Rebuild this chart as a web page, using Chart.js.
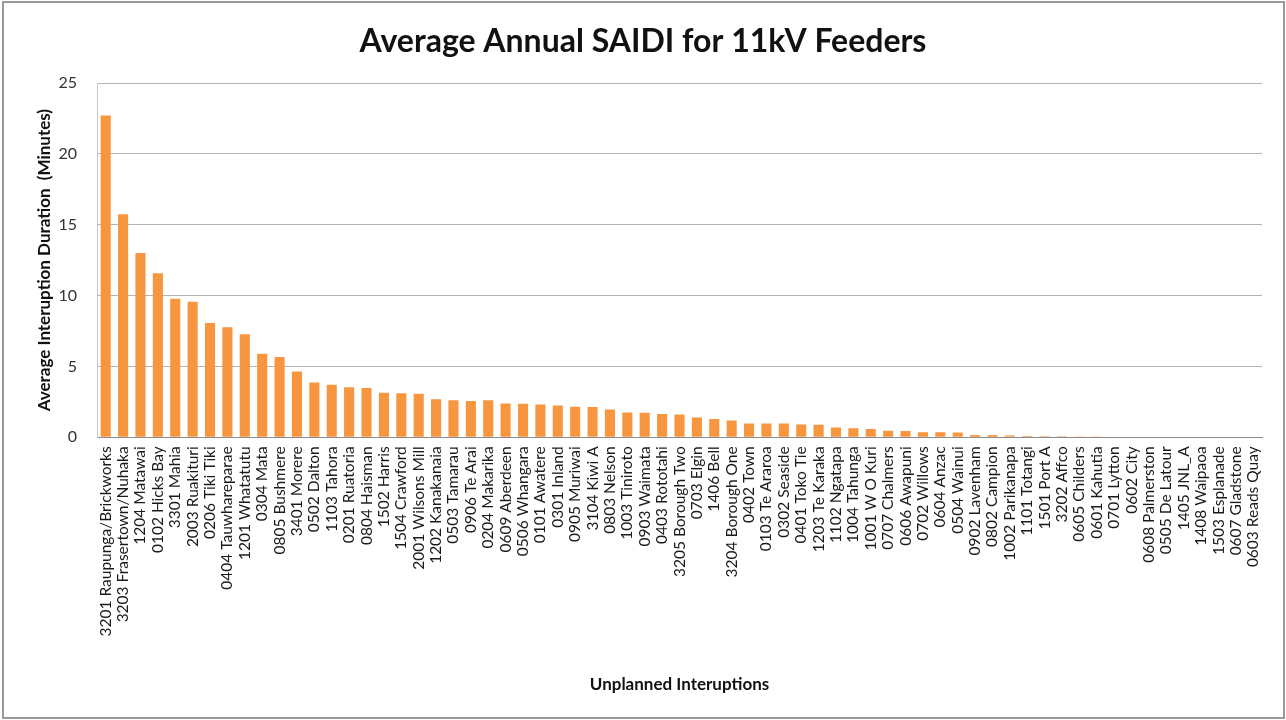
<!DOCTYPE html>
<html>
<head>
<meta charset="utf-8">
<title>Average Annual SAIDI for 11kV Feeders</title>
<script src="https://cdn.jsdelivr.net/npm/chart.js@4/dist/chart.umd.min.js"></script>
<style>
  html, body { margin: 0; padding: 0; background: #ffffff; }
  #wrap { position: relative; width: 1286px; height: 720px; }
</style>
</head>
<body>
<div id="wrap"><canvas id="chart" width="1286" height="720"></canvas></div>
<script>
// Feeder names (x-axis categories), ordered by average SAIDI
const feeders = [
  '3201 Raupunga/Brickworks', '3203 Frasertown/Nuhaka', '1204 Matawai', '0102 Hicks Bay',
  '3301 Mahia', '2003 Ruakituri', '0206 Tiki Tiki', '0404 Tauwhareparae', '1201 Whatatutu',
  '0304 Mata', '0805 Bushmere', '3401 Morere', '0502 Dalton', '1103 Tahora', '0201 Ruatoria',
  '0804 Haisman', '1502 Harris', '1504 Crawford', '2001 Wilsons Mill', '1202 Kanakanaia',
  '0503 Tamarau', '0906 Te Arai', '0204 Makarika', '0609 Aberdeen', '0506 Whangara',
  '0101 Awatere', '0301 Inland', '0905 Muriwai', '3104 Kiwi A', '0803 Nelson', '1003 Tiniroto',
  '0903 Waimata', '0403 Rototahi', '3205 Borough Two', '0703 Elgin', '1406 Bell',
  '3204 Borough One', '0402 Town', '0103 Te Araroa', '0302 Seaside', '0401 Toko Tie',
  '1203 Te Karaka', '1102 Ngatapa', '1004 Tahunga', '1001 W O Kuri', '0707 Chalmers',
  '0606 Awapuni', '0702 Willows', '0604 Anzac', '0504 Wainui', '0902 Lavenham', '0802 Campion',
  '1002 Parikanapa', '1101 Totangi', '1501 Port A', '3202 Affco', '0605 Childers',
  '0601 Kahutia', '0701 Lytton', '0602 City', '0608 Palmerston', '0505 De Latour',
  '1405 JNL_A', '1408 Waipaoa', '1503 Esplanade', '0607 Gladstone', '0603 Reads Quay'
];

// Average interruption duration per feeder (minutes)
const saidiMinutes = [
  22.7, 15.74, 13.0, 11.57, 9.77, 9.56, 8.07, 7.76, 7.27, 5.9,
  5.66, 4.65, 3.87, 3.7, 3.54, 3.47, 3.15, 3.1, 3.07, 2.68,
  2.62, 2.57, 2.62, 2.38, 2.36, 2.31, 2.24, 2.15, 2.13, 1.96,
  1.75, 1.73, 1.64, 1.6, 1.4, 1.3, 1.18, 0.98, 0.98, 0.97,
  0.9, 0.88, 0.7, 0.63, 0.58, 0.46, 0.45, 0.36, 0.35, 0.34,
  0.17, 0.16, 0.12, 0.1, 0.08, 0.07, 0.05, 0.02, 0, 0,
  0, 0, 0, 0, 0, 0, 0
];

// Y-axis tick values
const yTicks = [0, 5, 10, 15, 20, 25];

const chartTitle = 'Average Annual SAIDI for 11kV Feeders';
const xTitle = 'Unplanned Interuptions';
const yTitle = 'Average Interuption Duration  (Minutes)';

const FONT = 'Lato, "Open Sans", sans-serif';

// White background with a thin grey frame around the whole figure
const framePlugin = {
  id: 'frame',
  beforeDraw(chart) {
    const ctx = chart.ctx;
    ctx.save();
    ctx.fillStyle = '#ffffff';
    ctx.fillRect(0, 0, chart.width, chart.height);
    ctx.strokeStyle = '#9a9a9a';
    ctx.lineWidth = 2;
    ctx.strokeRect(3, 2, chart.width - 5, chart.height - 4);
    ctx.restore();
  }
};

new Chart(document.getElementById('chart'), {
  type: 'bar',
  data: {
    labels: feeders,
    datasets: [{
      label: 'SAIDI',
      data: saidiMinutes,
      backgroundColor: '#F7963F',
      borderWidth: 0,
      barPercentage: 0.58,
      categoryPercentage: 1.0
    }]
  },
  options: {
    responsive: false,
    animation: false,
    devicePixelRatio: 1,
    layout: { padding: 0 },
    plugins: {
      legend: { display: false },
      tooltip: { enabled: false },
      title: {
        display: true,
        text: chartTitle,
        color: '#111111',
        font: { family: FONT, size: 32, weight: 'bold' },
        padding: { top: 22, bottom: 22.6 }
      }
    },
    scales: {
      x: {
        grid: { display: false, drawTicks: false },
        border: { display: true, color: '#8c8c8c', width: 1 },
        ticks: {
          color: '#1a1a1a',
          font: { family: FONT, size: 15.5 },
          minRotation: 90,
          maxRotation: 90,
          autoSkip: false,
          padding: 9
        },
        title: {
          display: true,
          text: xTitle,
          color: '#111111',
          font: { family: FONT, size: 17, weight: 'bold' },
          padding: { top: 4, bottom: 25 }
        },
        afterFit(scale) { scale.height = 282.7; }
      },
      y: {
        min: 0,
        max: 25,
        afterBuildTicks(scale) { scale.ticks = yTicks.map(v => ({ value: v })); },
        grid: { color: '#b4b4b4', lineWidth: 1, drawTicks: false },
        border: { display: true, color: '#c8c8c8', width: 1 },
        ticks: {
          color: '#333333',
          font: { family: FONT, size: 16 },
          padding: 20
        },
        title: {
          display: true,
          text: yTitle,
          color: '#111111',
          font: { family: FONT, size: 17, weight: 'bold' },
          padding: { top: 34.8, bottom: 0 }
        },
        afterFit(scale) { scale.width = 97; }
      },
      // Empty right-hand margin box, keeps the title centred on the whole figure
      yMargin: {
        position: 'right',
        display: true,
        grid: { display: false, drawTicks: false },
        border: { display: false },
        ticks: { display: false },
        afterFit(scale) { scale.width = 24; }
      }
    }
  },
  plugins: [framePlugin]
});
</script>
</body>
</html>
